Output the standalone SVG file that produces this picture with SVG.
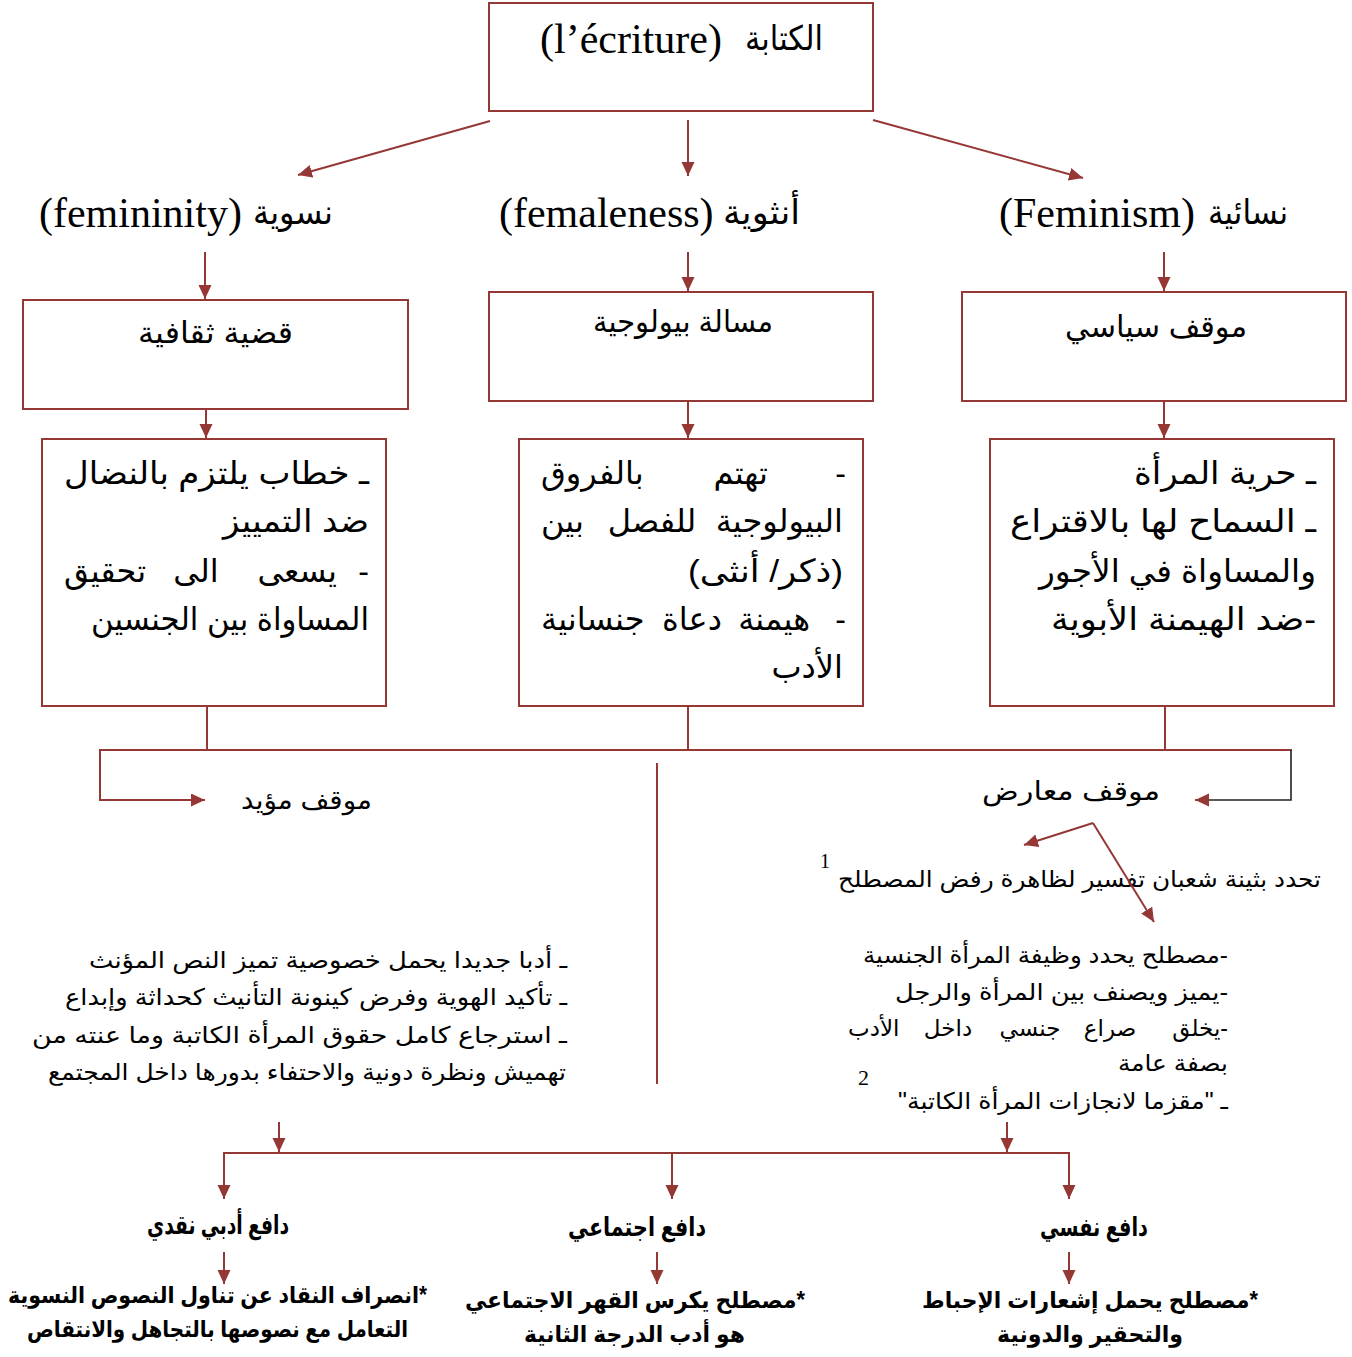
<svg xmlns="http://www.w3.org/2000/svg" width="1352" height="1357" viewBox="0 0 1352 1357">
  <defs>
    <marker id="arrow" markerUnits="userSpaceOnUse" markerWidth="16" markerHeight="14" refX="14" refY="6.5" orient="auto">
      <path d="M0,0 L14,6.5 L0,13 z" fill="#953735"/>
    </marker>
    <style>
      .box { fill: #ffffff; stroke: #953735; stroke-width: 2; }
      .ln { fill: none; stroke: #953735; stroke-width: 2; }
      .ar { font-family: "Liberation Sans", "DejaVu Sans", sans-serif; fill: #000; }
      .lat { font-family: "Liberation Serif", "DejaVu Serif", serif; fill: #000; }
      .t42 { font-size: 42px; }
      .t36 { font-size: 34px; }
      .t30 { font-size: 30px; }
      .t32 { font-size: 32px; }
      .t26 { font-size: 26px; }
      .t23 { font-size: 23px; }
      .bold { font-weight: bold; font-size: 26px; }
      .boldl { font-weight: bold; font-size: 23px; }
    </style>
  </defs>
  <rect width="1352" height="1357" fill="#ffffff"/>

  <!-- root node -->
  <g id="node-ecriture">
    <rect class="box" x="489" y="3" width="384" height="108"/>
    <text class="lat t42" x="540" y="53">(l’écriture)</text>
    <text class="ar t36" x="823" y="50" text-anchor="end" textLength="78" lengthAdjust="spacingAndGlyphs">الكتابة</text>
  </g>

  <!-- three terms -->
  <g id="node-femininity">
    <text class="lat t42" x="39" y="227">(femininity)</text>
    <text class="ar t36" x="333" y="224" text-anchor="end" textLength="80" lengthAdjust="spacingAndGlyphs">نسوية</text>
  </g>
  <g id="node-femaleness">
    <text class="lat t42" x="499" y="227">(femaleness)</text>
    <text class="ar t36" x="800" y="224" text-anchor="end" textLength="77" lengthAdjust="spacingAndGlyphs">أنثوية</text>
  </g>
  <g id="node-feminism">
    <text class="lat t42" x="999" y="227">(Feminism)</text>
    <text class="ar t36" x="1288" y="224" text-anchor="end" textLength="80" lengthAdjust="spacingAndGlyphs">نسائية</text>
  </g>

  <!-- second row: nature of each term -->
  <g id="node-cultural">
    <rect class="box" x="23" y="300" width="385" height="109"/>
    <text class="ar t30" x="293" y="343" text-anchor="end" textLength="155" lengthAdjust="spacingAndGlyphs">قضية ثقافية</text>
  </g>
  <g id="node-biological">
    <rect class="box" x="489" y="292" width="384" height="109"/>
    <text class="ar t30" x="773" y="332" text-anchor="end" textLength="180" lengthAdjust="spacingAndGlyphs">مسالة بيولوجية</text>
  </g>
  <g id="node-political">
    <rect class="box" x="962" y="292" width="384" height="109"/>
    <text class="ar t30" x="1247" y="337" text-anchor="end" textLength="182" lengthAdjust="spacingAndGlyphs">موقف سياسي</text>
  </g>

  <!-- third row: descriptions -->
  <g id="node-cultural-desc">
    <rect class="box" x="42" y="439" width="344" height="267"/>
    <text class="ar t32" x="369" y="484" text-anchor="end" textLength="305" lengthAdjust="spacingAndGlyphs">ـ خطاب يلتزم بالنضال</text>
    <text class="ar t32" x="369" y="532" text-anchor="end" textLength="146" lengthAdjust="spacingAndGlyphs">ضد التمييز</text>
    <text class="ar t32" x="369" y="582" text-anchor="end">-</text>
    <text class="ar t32" x="337" y="582" text-anchor="end">يسعى</text>
    <text class="ar t32" x="196" y="582" text-anchor="middle">الى</text>
    <text class="ar t32" x="64" y="582" text-anchor="start">تحقيق</text>
    <text class="ar t32" x="369" y="630" text-anchor="end" textLength="278" lengthAdjust="spacingAndGlyphs">المساواة بين الجنسين</text>
  </g>
  <g id="node-biological-desc">
    <rect class="box" x="519" y="439" width="344" height="267"/>
    <text class="ar t32" x="846" y="484" text-anchor="end">-</text>
    <text class="ar t32" x="768" y="484" text-anchor="end">تهتم</text>
    <text class="ar t32" x="541" y="484" text-anchor="start">بالفروق</text>
    <text class="ar t32" x="843" y="532" text-anchor="end">البيولوجية</text>
    <text class="ar t32" x="652" y="532" text-anchor="middle">للفصل</text>
    <text class="ar t32" x="541" y="532" text-anchor="start">بين</text>
    <text class="ar t32" x="843" y="582" text-anchor="end" textLength="155" lengthAdjust="spacingAndGlyphs">&#x200F;(ذكر/ أنثى)&#x200F;</text>
    <text class="ar t32" x="846" y="630" text-anchor="end">-</text>
    <text class="ar t32" x="810" y="630" text-anchor="end">هيمنة</text>
    <text class="ar t32" x="692" y="630" text-anchor="middle">دعاة</text>
    <text class="ar t32" x="541" y="630" text-anchor="start">جنسانية</text>
    <text class="ar t32" x="843" y="678" text-anchor="end">الأدب</text>
  </g>
  <g id="node-political-desc">
    <rect class="box" x="990" y="439" width="344" height="267"/>
    <text class="ar t32" x="1316" y="484" text-anchor="end" textLength="182" lengthAdjust="spacingAndGlyphs">ـ حرية المرأة</text>
    <text class="ar t32" x="1316" y="532" text-anchor="end" textLength="306" lengthAdjust="spacingAndGlyphs">ـ السماح لها بالاقتراع</text>
    <text class="ar t32" x="1316" y="582" text-anchor="end" textLength="277" lengthAdjust="spacingAndGlyphs">والمساواة في الأجور</text>
    <text class="ar t32" x="1316" y="630" text-anchor="end" textLength="265" lengthAdjust="spacingAndGlyphs">&#x200F;-ضد الهيمنة الأبوية</text>
  </g>

  <!-- stances -->
  <g id="node-support">
    <text class="ar t26" x="372" y="809" text-anchor="end" textLength="131" lengthAdjust="spacingAndGlyphs">موقف مؤيد</text>
  </g>
  <g id="node-oppose">
    <text class="ar t26" x="1160" y="800" text-anchor="end" textLength="178" lengthAdjust="spacingAndGlyphs">موقف معارض</text>
  </g>
  <g id="node-shaaban">
    <text class="ar t23" x="1321" y="887" text-anchor="end" textLength="483" lengthAdjust="spacingAndGlyphs">تحدد بثينة شعبان تفسير لظاهرة رفض المصطلح</text>
    <text class="lat" x="820" y="868" font-size="20">1</text>
  </g>

  <!-- arguments for -->
  <g id="node-support-list">
    <text class="ar t23" x="567" y="968" text-anchor="end" textLength="478" lengthAdjust="spacingAndGlyphs">ـ أدبا جديدا يحمل خصوصية تميز النص المؤنث</text>
    <text class="ar t23" x="567" y="1005" text-anchor="end" textLength="502" lengthAdjust="spacingAndGlyphs">ـ تأكيد الهوية وفرض كينونة التأنيث كحداثة وإبداع</text>
    <text class="ar t23" x="567" y="1043" text-anchor="end" textLength="535" lengthAdjust="spacingAndGlyphs">ـ استرجاع كامل حقوق المرأة الكاتبة وما عنته من</text>
    <text class="ar t23" x="566" y="1080" text-anchor="end" textLength="518" lengthAdjust="spacingAndGlyphs">تهميش ونظرة دونية والاحتفاء بدورها داخل المجتمع</text>
  </g>

  <!-- arguments against -->
  <g id="node-oppose-list">
    <text class="ar t23" x="1228" y="963" text-anchor="end" textLength="365" lengthAdjust="spacingAndGlyphs">&#x200F;-مصطلح يحدد وظيفة المرأة الجنسية</text>
    <text class="ar t23" x="1228" y="1000" text-anchor="end" textLength="333" lengthAdjust="spacingAndGlyphs">&#x200F;-يميز ويصنف بين المرأة والرجل</text>
    <text class="ar t23" x="1228" y="1036" text-anchor="end">&#x200F;-يخلق</text>
    <text class="ar t23" x="1110" y="1036" text-anchor="middle">صراع</text>
    <text class="ar t23" x="1030" y="1036" text-anchor="middle">جنسي</text>
    <text class="ar t23" x="948" y="1036" text-anchor="middle">داخل</text>
    <text class="ar t23" x="848" y="1036" text-anchor="start">الأدب</text>
    <text class="ar t23" x="1228" y="1071" text-anchor="end" textLength="110" lengthAdjust="spacingAndGlyphs">بصفة عامة</text>
    <text class="lat" x="858" y="1085" font-size="22">2</text>
    <text class="ar t23" x="1228" y="1109" text-anchor="end" textLength="330" lengthAdjust="spacingAndGlyphs">&#x200F;ـ "مقزما لانجازات المرأة الكاتبة"&#x200F;</text>
  </g>

  <!-- motives -->
  <g id="node-literary">
    <text class="ar bold" x="289" y="1234" text-anchor="end" textLength="142" lengthAdjust="spacingAndGlyphs">دافع أدبي نقدي</text>
    <text class="ar boldl" x="427" y="1303" text-anchor="end" textLength="419" lengthAdjust="spacingAndGlyphs">&#x200F;*انصراف النقاد عن تناول النصوص النسوية</text>
    <text class="ar boldl" x="408" y="1337" text-anchor="end" textLength="381" lengthAdjust="spacingAndGlyphs">التعامل مع نصوصها بالتجاهل والانتقاص</text>
  </g>
  <g id="node-social">
    <text class="ar bold" x="706" y="1236" text-anchor="end" textLength="138" lengthAdjust="spacingAndGlyphs">دافع اجتماعي</text>
    <text class="ar boldl" x="805" y="1308" text-anchor="end" textLength="340" lengthAdjust="spacingAndGlyphs">&#x200F;*مصطلح يكرس القهر الاجتماعي</text>
    <text class="ar boldl" x="745" y="1342" text-anchor="end" textLength="221" lengthAdjust="spacingAndGlyphs">هو أدب الدرجة الثانية</text>
  </g>
  <g id="node-psych">
    <text class="ar bold" x="1148" y="1236" text-anchor="end" textLength="108" lengthAdjust="spacingAndGlyphs">دافع نفسي</text>
    <text class="ar boldl" x="1258" y="1308" text-anchor="end" textLength="336" lengthAdjust="spacingAndGlyphs">&#x200F;*مصطلح يحمل إشعارات الإحباط</text>
    <text class="ar boldl" x="1183" y="1342" text-anchor="end" textLength="186" lengthAdjust="spacingAndGlyphs">والتحقير والدونية</text>
  </g>

  <!-- connectors -->
  <g id="connectors">
    <line class="ln" x1="490" y1="121" x2="298" y2="175" marker-end="url(#arrow)"/>
    <line class="ln" x1="688" y1="120" x2="688" y2="176" marker-end="url(#arrow)"/>
    <line class="ln" x1="873" y1="120" x2="1083" y2="178" marker-end="url(#arrow)"/>

    <line class="ln" x1="205" y1="252" x2="205" y2="299" marker-end="url(#arrow)"/>
    <line class="ln" x1="688" y1="252" x2="688" y2="291" marker-end="url(#arrow)"/>
    <line class="ln" x1="1164" y1="252" x2="1164" y2="291" marker-end="url(#arrow)"/>

    <line class="ln" x1="206" y1="409" x2="206" y2="438" marker-end="url(#arrow)"/>
    <line class="ln" x1="688" y1="401" x2="688" y2="438" marker-end="url(#arrow)"/>
    <line class="ln" x1="1164" y1="401" x2="1164" y2="438" marker-end="url(#arrow)"/>

    <line class="ln" x1="207" y1="706" x2="207" y2="750"/>
    <line class="ln" x1="688" y1="706" x2="688" y2="750"/>
    <line class="ln" x1="1165" y1="706" x2="1165" y2="750"/>
    <line class="ln" x1="99" y1="750" x2="1292" y2="750"/>
    <polyline class="ln" points="100,750 100,800 205,800" marker-end="url(#arrow)"/>
    <polyline fill="none" stroke="#222" stroke-width="1.6" points="1291,750 1291,800 1195,800" marker-end="url(#arrow)"/>

    <line class="ln" x1="657" y1="763" x2="657" y2="1084"/>

    <line class="ln" x1="1093" y1="823" x2="1024" y2="845" marker-end="url(#arrow)"/>
    <line class="ln" x1="1093" y1="823" x2="1154" y2="922" marker-end="url(#arrow)"/>

    <line class="ln" x1="279" y1="1122" x2="279" y2="1152" marker-end="url(#arrow)"/>
    <line class="ln" x1="1007" y1="1122" x2="1007" y2="1152" marker-end="url(#arrow)"/>
    <line class="ln" x1="223" y1="1153" x2="1070" y2="1153"/>
    <line class="ln" x1="224" y1="1153" x2="224" y2="1199" marker-end="url(#arrow)"/>
    <line class="ln" x1="672" y1="1153" x2="672" y2="1199" marker-end="url(#arrow)"/>
    <line class="ln" x1="1069" y1="1153" x2="1069" y2="1199" marker-end="url(#arrow)"/>

    <line class="ln" x1="224" y1="1252" x2="224" y2="1284" marker-end="url(#arrow)"/>
    <line class="ln" x1="657" y1="1252" x2="657" y2="1284" marker-end="url(#arrow)"/>
    <line class="ln" x1="1069" y1="1252" x2="1069" y2="1284" marker-end="url(#arrow)"/>
  </g>
</svg>
